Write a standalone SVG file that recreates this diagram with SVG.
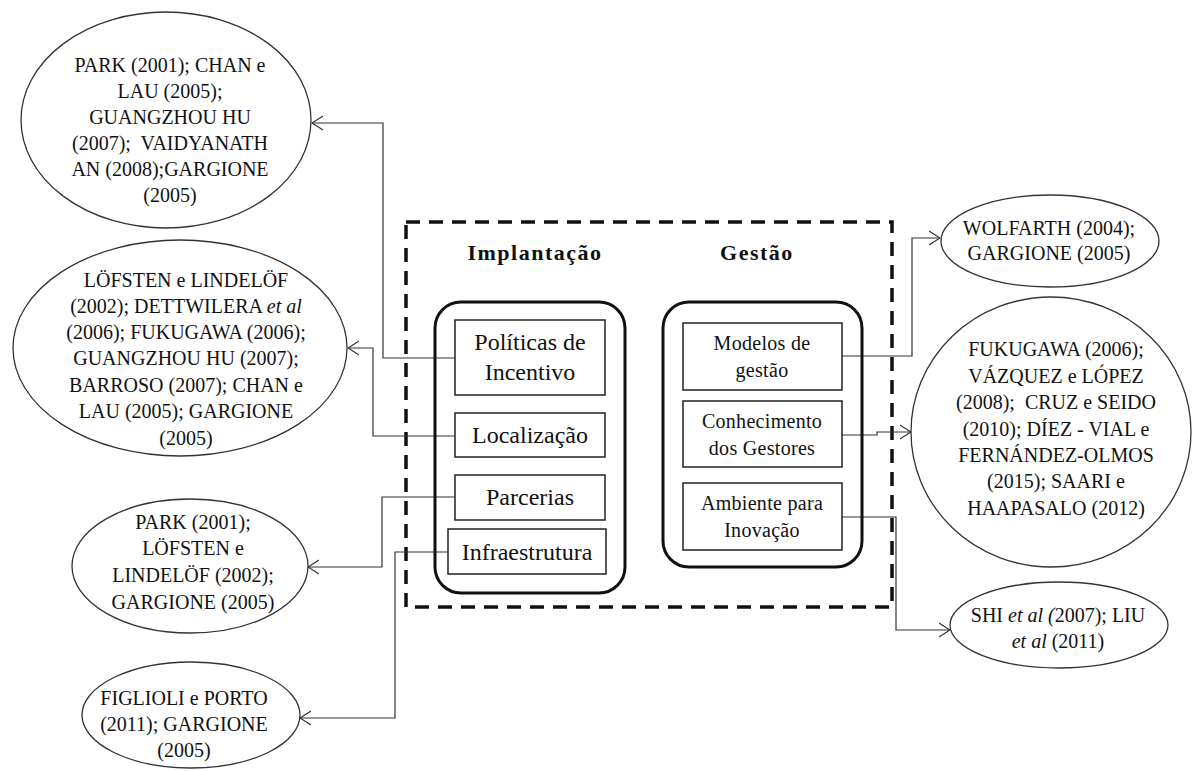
<svg xmlns="http://www.w3.org/2000/svg" width="1196" height="771" viewBox="0 0 1196 771" font-family="'Liberation Serif', Tinos, 'Times New Roman', 'Noto Serif', 'DejaVu Serif', serif">
<style>
.t{font-family:'Liberation Serif',Tinos,'Times New Roman','Noto Serif','DejaVu Serif',serif;font-size:20px;fill:#111;text-anchor:middle}
.b{font-family:'Liberation Serif',Tinos,'Times New Roman','Noto Serif','DejaVu Serif',serif;font-size:24px;fill:#111;text-anchor:middle}
.s{font-family:'Liberation Serif',Tinos,'Times New Roman','Noto Serif','DejaVu Serif',serif;font-size:20px;fill:#111;text-anchor:middle;letter-spacing:0.3px}
.h{font-family:'Liberation Serif',Tinos,'Times New Roman','Noto Serif','DejaVu Serif',serif;font-size:22px;font-weight:bold;fill:#111;text-anchor:middle;letter-spacing:1.5px}
.e{fill:#fff;stroke:#333;stroke-width:1.3}
.r{fill:#fff;stroke:#222;stroke-width:1.5}
.g{fill:none;stroke:#111;stroke-width:3}
.c{fill:none;stroke:#333;stroke-width:1.2}
.i{font-style:italic}
</style>
<defs>
<marker id="a" markerWidth="12" markerHeight="16" refX="11" refY="8" orient="auto" markerUnits="userSpaceOnUse">
<path d="M0,1 L11,8 L0,15" fill="none" stroke="#333" stroke-width="1.2"/>
</marker>
</defs>
<rect width="1196" height="771" fill="#fff"/>
<g id="frame">
<rect x="406" y="222" width="486" height="385" fill="none" stroke="#111" stroke-width="3.5" stroke-dasharray="14 9"/>
<text class="h" x="535" y="260">Implantação</text>
<text class="h" x="757" y="260">Gestão</text>
</g>
<g id="connectors">
<path class="c" d="M455,358 H383 V123 H312" marker-end="url(#a)"/>
<path class="c" d="M455,436 H373 V348 H348" marker-end="url(#a)"/>
<path class="c" d="M455,497 H382 V567 H308" marker-end="url(#a)"/>
<path class="c" d="M448,552 H395 V718 H300" marker-end="url(#a)"/>
<path class="c" d="M842,356 H912 V238 H940" marker-end="url(#a)"/>
<path class="c" d="M842,435 H877 V432 H911" marker-end="url(#a)"/>
<path class="c" d="M842,517 H896 V630 H950" marker-end="url(#a)"/>
</g>
<g id="implantacao">
<rect class="g" x="435" y="302" width="190" height="291" rx="26"/>
</g>
<g id="gestao">
<rect class="g" x="663" y="302" width="199" height="265" rx="26"/>
</g>
<g id="politicas">
<rect class="r" x="455" y="320" width="150" height="75"/>
<text class="b" x="530" y="350">Políticas de</text>
<text class="b" x="530" y="380">Incentivo</text>
</g>
<g id="localizacao">
<rect class="r" x="455" y="413" width="150" height="44"/>
<text class="b" x="530" y="443">Localização</text>
</g>
<g id="parcerias">
<rect class="r" x="455" y="475" width="150" height="45"/>
<text class="b" x="530" y="505">Parcerias</text>
</g>
<g id="infraestrutura">
<rect class="r" x="448" y="529" width="158" height="45"/>
<text class="b" x="527" y="560">Infraestrutura</text>
</g>
<g id="modelos">
<rect class="r" x="683" y="323" width="159" height="67"/>
<text class="s" x="762" y="350">Modelos de</text>
<text class="s" x="762" y="377">gestão</text>
</g>
<g id="conhecimento">
<rect class="r" x="683" y="401" width="159" height="66"/>
<text class="s" x="762" y="428">Conhecimento</text>
<text class="s" x="762" y="455">dos Gestores</text>
</g>
<g id="ambiente">
<rect class="r" x="683" y="483" width="159" height="67"/>
<text class="s" x="762" y="510">Ambiente para</text>
<text class="s" x="762" y="537">Inovação</text>
</g>
<g id="ref1">
<ellipse class="e" cx="166" cy="120" rx="145" ry="108"/>
<text class="t" x="170" y="72">PARK (2001); CHAN e</text>
<text class="t" x="170" y="98">LAU (2005);</text>
<text class="t" x="170" y="124">GUANGZHOU HU</text>
<text class="t" x="170" y="150">(2007);&#160; VAIDYANATH</text>
<text class="t" x="170" y="176">AN (2008);GARGIONE</text>
<text class="t" x="170" y="202">(2005)</text>
</g>
<g id="ref2">
<ellipse class="e" cx="180" cy="348" rx="167" ry="108"/>
<text class="t" x="186" y="287">LÖFSTEN e LINDELÖF</text>
<text class="t" x="186" y="313">(2002); DETTWILERA <tspan class="i">et al</tspan></text>
<text class="t" x="186" y="339">(2006); FUKUGAWA (2006);</text>
<text class="t" x="186" y="365">GUANGZHOU HU (2007);</text>
<text class="t" x="186" y="392">BARROSO (2007); CHAN e</text>
<text class="t" x="186" y="418">LAU (2005); GARGIONE</text>
<text class="t" x="186" y="445">(2005)</text>
</g>
<g id="ref3">
<ellipse class="e" cx="190" cy="566" rx="118" ry="67"/>
<text class="t" x="193" y="529">PARK (2001);</text>
<text class="t" x="193" y="555">LÖFSTEN e</text>
<text class="t" x="193" y="582">LINDELÖF (2002);</text>
<text class="t" x="193" y="609">GARGIONE (2005)</text>
</g>
<g id="ref4">
<ellipse class="e" cx="191" cy="715" rx="109" ry="53"/>
<text class="t" x="184" y="705">FIGLIOLI e PORTO</text>
<text class="t" x="184" y="731">(2011); GARGIONE</text>
<text class="t" x="184" y="757">(2005)</text>
</g>
<g id="ref5">
<ellipse class="e" cx="1050" cy="241" rx="109" ry="46"/>
<text class="t" x="1049" y="235">WOLFARTH (2004);</text>
<text class="t" x="1049" y="260">GARGIONE (2005)</text>
</g>
<g id="ref6">
<ellipse class="e" cx="1051" cy="432" rx="140" ry="135"/>
<text class="t" x="1056" y="356">FUKUGAWA (2006);</text>
<text class="t" x="1056" y="383">VÁZQUEZ e LÓPEZ</text>
<text class="t" x="1056" y="409">(2008);&#160; CRUZ e SEIDO</text>
<text class="t" x="1056" y="436">(2010); DÍEZ - VIAL e</text>
<text class="t" x="1056" y="462">FERNÁNDEZ-OLMOS</text>
<text class="t" x="1056" y="488">(2015); SAARI e</text>
<text class="t" x="1056" y="515">HAAPASALO (2012)</text>
</g>
<g id="ref7">
<ellipse class="e" cx="1059" cy="625" rx="109" ry="43"/>
<text class="t" x="1058" y="622">SHI <tspan class="i">et al (</tspan>2007); LIU</text>
<text class="t" x="1058" y="648"><tspan class="i">et al</tspan> (2011)</text>
</g>
</svg>
